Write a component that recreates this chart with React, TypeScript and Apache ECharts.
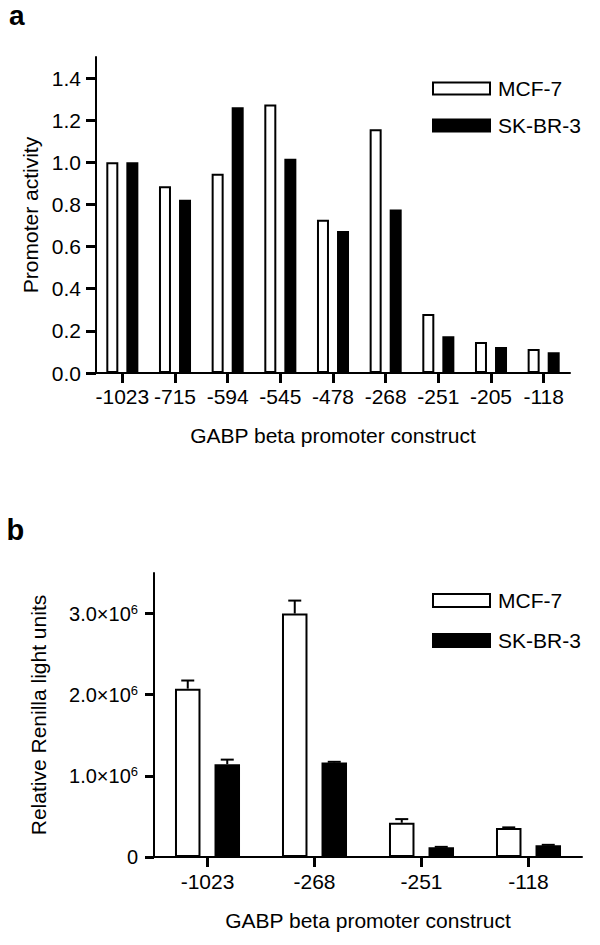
import React, { useEffect, useRef } from 'react';
import * as echarts from 'echarts';

// ---- data ----
const seriesNames = ['MCF-7', 'SK-BR-3'];

const topCategories = ['-1023', '-715', '-594', '-545', '-478', '-268', '-251', '-205', '-118'];
const topMCF7 = [1.0, 0.886, 0.946, 1.275, 0.728, 1.157, 0.28, 0.147, 0.114];
const topSKBR3 = [1.0, 0.822, 1.262, 1.017, 0.674, 0.776, 0.174, 0.123, 0.098];
const topYTicks = [0, 0.2, 0.4, 0.6, 0.8, 1.0, 1.2, 1.4];

const bottomCategories = ['-1023', '-268', '-251', '-118'];
const bottomMCF7 = [2.075e6, 3.0e6, 0.422e6, 0.357e6];
const bottomMCF7Err = [0.1e6, 0.16e6, 0.045e6, 0.008e6];
const bottomSKBR3 = [1.144e6, 1.165e6, 0.119e6, 0.144e6];
const bottomSKBR3Err = [0.056e6, 0.008e6, 0.006e6, 0.006e6];
const bottomYTicks = [0, 1e6, 2e6, 3e6];

const xTitle = 'GABP beta promoter construct';

// ---- style constants ----
const FONT = '"Liberation Sans", Arial, Helvetica, sans-serif';
const BLACK = '#000';
const FS = 21;
const BOTTOM_BAR_W = 25.5;
const BOTTOM_GAP_PX = 14;
const ERR_OFFSET = (BOTTOM_BAR_W + BOTTOM_GAP_PX) / 2;
const CAP_W = 13;

function makeXAxis(gridIndex: number, cats: string[], nameGap: number, labelMargin: number) {
  return {
    type: 'category',
    gridIndex,
    data: cats,
    axisLine: { show: true, lineStyle: { color: BLACK, width: 2 } },
    axisTick: { show: true, alignWithLabel: true, length: 10, lineStyle: { color: BLACK, width: 3 } },
    axisLabel: { interval: 0, fontSize: FS, color: BLACK, margin: labelMargin, fontFamily: FONT },
    splitLine: { show: false },
    name: xTitle,
    nameLocation: 'middle',
    nameGap,
    nameTextStyle: { fontSize: FS, color: BLACK, fontFamily: FONT },
  };
}

export default function App() {
  const ref = useRef<HTMLDivElement>(null);

  useEffect(() => {
    if (!ref.current) return;
    const chart = echarts.init(ref.current, null, { renderer: 'svg' });

    const errData = (vals: number[], errs: number[], side: number) =>
      vals.map((v, i) => [i, v, errs[i], side]);

    const legendBase = {
      orient: 'vertical',
      left: 432,
      padding: 0,
      itemWidth: 57,
      icon: 'rect',
      selectedMode: false,
      data: seriesNames,
      textStyle: { fontSize: FS, color: BLACK, fontFamily: FONT, padding: [0, 0, 0, 3] },
    };

    const option: any = {
      animation: false,
      textStyle: { fontFamily: FONT, color: BLACK },
      grid: [
        { left: 96, top: 57, width: 474, height: 316 },
        { left: 154, top: 573, width: 428, height: 284 },
      ],
      graphic: [
        {
          type: 'text',
          x: 9,
          y: 15,
          style: {
            text: 'a',
            fill: BLACK,
            font: `bold 28px ${FONT}`,
            verticalAlign: 'middle',
            lineHeight: 20,
          },
        },
        {
          type: 'text',
          x: 6.5,
          y: 530,
          style: {
            text: 'b',
            fill: BLACK,
            font: `bold 29px ${FONT}`,
            verticalAlign: 'middle',
            lineHeight: 24,
          },
        },
      ],
      legend: [
        { ...legendBase, top: 78, itemHeight: 12, itemGap: 16 },
        { ...legendBase, top: 590, itemHeight: 13, itemGap: 19 },
      ],
      xAxis: [makeXAxis(0, topCategories, 52, 13), makeXAxis(1, bottomCategories, 53, 14)],
      yAxis: [
        {
          type: 'value',
          gridIndex: 0,
          min: 0,
          max: 1.5,
          axisLine: { show: true, lineStyle: { color: BLACK, width: 2 } },
          axisTick: { show: true, length: 10, customValues: topYTicks, lineStyle: { color: BLACK, width: 3 } },
          axisLabel: {
            customValues: topYTicks,
            fontSize: FS,
            color: BLACK,
            margin: 15,
            fontFamily: FONT,
            formatter: (v: number) => v.toFixed(1),
          },
          splitLine: { show: false },
          name: 'Promoter activity',
          nameLocation: 'middle',
          nameGap: 55,
          nameTextStyle: { fontSize: FS, color: BLACK, fontFamily: FONT },
        },
        {
          type: 'value',
          gridIndex: 1,
          min: 0,
          max: 3.5e6,
          axisLine: { show: true, lineStyle: { color: BLACK, width: 2 } },
          axisTick: { show: true, length: 9, customValues: bottomYTicks, lineStyle: { color: BLACK, width: 3 } },
          axisLabel: {
            customValues: bottomYTicks,
            margin: 16,
            color: BLACK,
            fontSize: 20,
            fontFamily: FONT,
            formatter: (v: number) => (v === 0 ? '{a|0}' : `{a|${(v / 1e6).toFixed(1)}×10}{s|6}`),
            rich: {
              a: { fontSize: 20, lineHeight: 21, color: BLACK, fontFamily: FONT },
              s: { fontSize: 13, lineHeight: 13, color: BLACK, fontFamily: FONT, verticalAlign: 'top' },
            },
          },
          splitLine: { show: false },
          name: 'Relative Renilla light units',
          nameLocation: 'middle',
          nameGap: 105,
          nameTextStyle: { fontSize: FS, color: BLACK, fontFamily: FONT },
        },
      ],
      series: [
        {
          type: 'bar',
          name: seriesNames[0],
          xAxisIndex: 0,
          yAxisIndex: 0,
          data: topMCF7,
          barWidth: 12,
          barGap: '67%',
          itemStyle: { color: '#fff', borderColor: BLACK, borderWidth: 2 },
          emphasis: { disabled: true },
        },
        {
          type: 'bar',
          name: seriesNames[1],
          xAxisIndex: 0,
          yAxisIndex: 0,
          data: topSKBR3,
          barWidth: 12,
          barGap: '67%',
          itemStyle: { color: BLACK, borderColor: BLACK, borderWidth: 2 },
          emphasis: { disabled: true },
        },
        {
          type: 'bar',
          name: seriesNames[0],
          xAxisIndex: 1,
          yAxisIndex: 1,
          data: bottomMCF7,
          barWidth: BOTTOM_BAR_W,
          barGap: '55%',
          itemStyle: { color: '#fff', borderColor: BLACK, borderWidth: 2 },
          emphasis: { disabled: true },
        },
        {
          type: 'bar',
          name: seriesNames[1],
          xAxisIndex: 1,
          yAxisIndex: 1,
          data: bottomSKBR3,
          barWidth: BOTTOM_BAR_W,
          barGap: '55%',
          itemStyle: { color: BLACK, borderColor: BLACK, borderWidth: 2 },
          emphasis: { disabled: true },
        },
        {
          type: 'custom',
          name: 'errors',
          xAxisIndex: 1,
          yAxisIndex: 1,
          z: 5,
          silent: true,
          encode: { x: 0, y: 1 },
          data: [...errData(bottomMCF7, bottomMCF7Err, -1), ...errData(bottomSKBR3, bottomSKBR3Err, 1)],
          renderItem: (params: any, api: any) => {
            const cat = api.value(0);
            const v = api.value(1);
            const e = api.value(2);
            const side = api.value(3);
            const base = api.coord([cat, v]);
            const top = api.coord([cat, v + e]);
            const x = base[0] + side * ERR_OFFSET;
            return {
              type: 'group',
              children: [
                { type: 'line', shape: { x1: x, y1: base[1], x2: x, y2: top[1] }, style: { stroke: BLACK, lineWidth: 2 } },
                {
                  type: 'line',
                  shape: { x1: x - CAP_W / 2, y1: top[1], x2: x + CAP_W / 2, y2: top[1] },
                  style: { stroke: BLACK, lineWidth: 2 },
                },
              ],
            };
          },
        },
      ],
    };

    chart.setOption(option);
    return () => chart.dispose();
  }, []);

  return (
    <div
      ref={ref}
      style={{ position: 'absolute', left: 0, top: 0, width: 600, height: 945, background: '#fff' }}
    />
  );
}
